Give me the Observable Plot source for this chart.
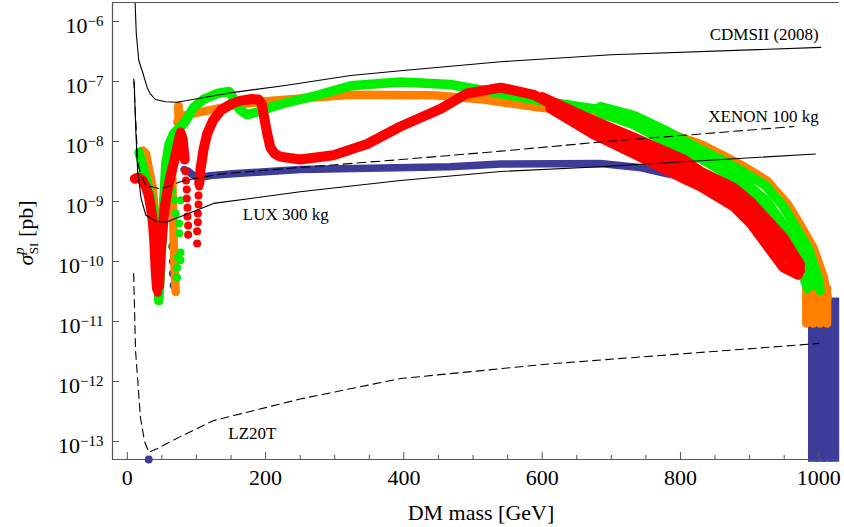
<!DOCTYPE html>
<html><head><meta charset="utf-8">
<script src="https://cdn.jsdelivr.net/npm/d3@7"></script>
<script src="https://cdn.jsdelivr.net/npm/@observablehq/plot@0.6"></script>
<style>
html,body{margin:0;padding:0;background:#fff;}
#chart svg{display:block;}
</style></head><body><div id="chart"></div>
<script>
// ---------------- data (mass in GeV, sigma in pb) ----------------
const xMajor = [0, 200, 400, 600, 800, 1000];
const xMinor = [50, 100, 150, 250, 300, 350, 450, 500, 550, 650, 700, 750, 850, 900, 950];
const yTicks = [1e-13, 1e-12, 1e-11, 1e-10, 1e-9, 1e-8, 1e-7, 1e-6];

const cdms = [[11,2.5e-6],[13,6.3e-7],[16.6,2.24e-7],[21.5,1.51e-7],[28.8,7.9e-8],[33,6.3e-8],[40.8,5.0e-8],[55,4.6e-8],[72,4.5e-8],[154,6.6e-8],[226,8.5e-8],[323,1.26e-7],[395,1.51e-7],[540,2.14e-7],[700,2.8e-7],[1003,3.7e-7]];
const xenon = [[9.4,1.1e-7],[11,4.0e-8],[12.5,2.0e-8],[14.7,5.0e-9],[19,2.8e-9],[27,1.86e-9],[48,1.62e-9],[82,2.24e-9],[135,2.88e-9],[251,3.7e-9],[395,5.0e-9],[540,6.9e-9],[684,9.8e-9],[964,1.78e-8]];
const lux = [[10,1.0e-7],[12.3,1.5e-8],[15,3.2e-9],[20,1.12e-9],[26.8,5.9e-10],[41.2,4.7e-10],[55.7,4.5e-10],[86.6,6.2e-10],[124.7,9.3e-10],[250,1.45e-9],[395,2.24e-9],[540,3.16e-9],[684,3.8e-9],[995,6.2e-9]];
const lz = [[9.2,6.3e-11],[11.9,3.3e-12],[19,2.5e-13],[25,1.0e-13],[31,6.6e-14],[43,7.6e-14],[80,1.26e-13],[125,2.24e-13],[250,5.1e-13],[395,1.12e-12],[612,1.97e-12],[1000,4.3e-12]];

const curveLabels = ["CDMSII (2008)", "XENON 100 kg", "LUX 300 kg", "LZ20T"];
const labelMass = [1000, 1000, 167, 146];
const labelSigma = [5.0e-7, 2.14e-8, 5.0e-10, 1.12e-13];

// scan points: [mass, sigma, strand]
const navyStrands = [
  [82,3.4e-9,"a"],[88,3.2e-9,"a"],[95,2.75e-9,"a"],[104,2.5e-9,"a"],[120,2.7e-9,"a"],[153,2.9e-9,"a"],[250,3.4e-9,"a"],[467,3.8e-9,"a"],[540,4.2e-9,"a"],[684,4.3e-9,"a"],[740,3.7e-9,"a"],[781,2.9e-9,"a"],[829,2.4e-9,"a"],[877,1.78e-9,"a"],[919,6.0e-10,"a"],[965,1.41e-10,"a"],[1007,2.5e-11,"a"],[1015,1.26e-11,"a"]
];
const navyColumn = [
  [992,8.9e-12,"a"],[992,4.6e-14,"a"],
  [1002,8.9e-12,"b"],[1002,4.6e-14,"b"],
  [1012,1.5e-11,"c"],[1012,4.6e-14,"c"],
  [1022,2.5e-11,"d"],[1022,4.6e-14,"d"]
];
const navyDots = [[65,1.78e-10],[66,1.0e-10],[66,6.3e-11],[67,4.0e-11],[31,5.0e-14]];

const orangeStrands = [
  [22,7.1e-9,"a"],[27,6.3e-9,"a"],[32,3.2e-9,"a"],[36.5,1.78e-9,"a"],[41,5.0e-10,"a"],[44,1.26e-10,"a"],[46,5.0e-11,"a"],[48,1.0e-10,"a"],[51,3.2e-10,"a"],[54,1.0e-9,"a"],[57,3.2e-9,"a"],[62,7.1e-9,"a"],
  [64,5.0e-9,"b"],[66,1.0e-9,"b"],[67,2.5e-10,"b"],[68,1.0e-10,"b"],[70,3.1e-11,"b"],
  [74,4.0e-8,"c"],[74,2.24e-8,"c"],
  [74,3.8e-8,"d"],[76,2.5e-8,"d"],[81,2.7e-8,"d"],[100,3.0e-8,"d"],[153,4.0e-8,"d"],[200,4.7e-8,"d"],[251,5.2e-8,"d"],[323,6.0e-8,"d"],[443,5.9e-8,"d"],[515,5.0e-8,"d"],[588,3.8e-8,"d"],[684,2.8e-8,"d"],[733,2.1e-8,"d"],[781,1.41e-8,"d"],[829,9.1e-9,"d"],[858,6.2e-9,"d"],[891,3.9e-9,"d"],[926,2.19e-9,"d"],[955,9.1e-10,"d"],[973,4.17e-10,"d"],[992,1.74e-10,"d"],[1007,5.6e-11,"d"],[1013,2.5e-11,"d"],
  [982,3.55e-11,"e"],[982,9.3e-12,"e"],
  [992,3.55e-11,"f"],[992,9.3e-12,"f"],
  [1002,3.55e-11,"g"],[1002,9.3e-12,"g"],
  [1012,3.55e-11,"h"],[1012,9.3e-12,"h"]
];
const orangeDots = [[72,2.1e-8]];

const greenStrands = [
  [17,6.6e-9,"a"],[24,3.3e-9,"a"],[34,1.17e-9,"a"],[41,3.3e-10,"a"],[43.5,9.3e-11,"a"],[45.5,2.24e-11,"a"],[48.5,9.1e-11,"a"],[51,3.3e-10,"a"],[53,1.17e-9,"a"],[55.7,4.3e-9,"a"],[60.6,9.1e-9,"a"],[67,1.35e-8,"a"],[82,2.0e-8,"a"],[89,2.7e-8,"a"],[96,3.7e-8,"a"],[111,5.1e-8,"a"],[130,6.3e-8,"a"],[147,6.8e-8,"a"],[152,5.6e-8,"a"],[158,4.0e-8,"a"],[164,3.3e-8,"a"],[173,2.8e-8,"a"],[188,3.1e-8,"a"],[207,3.7e-8,"a"],[226,4.3e-8,"a"],[275,5.9e-8,"a"],[323,8.5e-8,"a"],[395,9.8e-8,"a"],[467,8.9e-8,"a"],[540,6.3e-8,"a"],[612,4.5e-8,"a"],[684,3.4e-8,"a"],[733,2.24e-8,"a"],[781,1.17e-8,"a"],[829,6.07e-9,"a"],[872,3.29e-9,"a"],[924,1.04e-9,"a"],[955,3.29e-10,"a"],[979,1.04e-10,"a"],[991,4.0e-11,"a"],
  [684,3.8e-8,"b"],[733,2.7e-8,"b"],[781,1.48e-8,"b"],[826,7.64e-9,"b"],[855,5.2e-9,"b"],[887,3.29e-9,"b"],[923,1.85e-9,"b"],[949,8.26e-10,"b"],[966,3.83e-10,"b"],[985,1.65e-10,"b"],[999,5.2e-11,"b"],[1002,3.29e-11,"b"],
  [684,3.0e-8,"c"],[733,1.9e-8,"c"],[781,9.5e-9,"c"],[832,5.0e-9,"c"],[880,2.33e-9,"c"],[916,7.9e-10,"c"],[940,3.29e-10,"c"],[965,1.26e-10,"c"],[979,5.2e-11,"c"],[984,3.55e-11,"c"]
];
const greenDots = [[65,1.51e-9],[68,1.05e-9],[70,6.3e-10],[75,4.3e-10],[75,2.95e-10],[77,1.05e-9],[77,1.41e-10],[73,1.17e-10],[77,1.05e-10],[72,7.9e-11],[72,5.4e-11],[44,4.0e-11],[46,3.2e-11],[47,6.3e-11],[44,1.26e-10]];

const redStrands = [
  [11,2.4e-9,"a"],[16,2.5e-9,"a"],[22,2.24e-9,"a"],[27,1.74e-9,"a"],[31,1.26e-9,"a"],[34,7.9e-10,"a"],[37,4.5e-10,"a"],[39,2.24e-10,"a"],[41,7.1e-11,"a"],[43,3.5e-11,"a"],[46,4.0e-11,"a"],[48,1.26e-10,"a"],[51,3.3e-10,"a"],[54,7.9e-10,"a"],[58,1.51e-9,"a"],[63,2.8e-9,"a"],[68,4.8e-9,"a"],[73,8.9e-9,"a"],[77,1.41e-8,"a"],[80,1.12e-8,"a"],[83,5.0e-9,"a"],
  [104,2.0e-9,"b"],[106,3.5e-9,"b"],[110,7.1e-9,"b"],[115.5,1.35e-8,"b"],[124,2.24e-8,"b"],[135,3.3e-8,"b"],[150,4.2e-8,"b"],[164,4.8e-8,"b"],[180,5.1e-8,"b"],[190,5.0e-8,"b"],[195,4.0e-8,"b"],[198,2.5e-8,"b"],[202,1.41e-8,"b"],[207,7.9e-9,"b"],[213,6.3e-9,"b"],[221,5.6e-9,"b"],[250,5.0e-9,"b"],[298,5.9e-9,"b"],[347,9.1e-9,"b"],[395,1.78e-8,"b"],[453,3.5e-8,"b"],[491,6.3e-8,"b"],[540,7.9e-8,"b"],[588,6.0e-8,"b"],[612,4.3e-8,"b"],[674,1.78e-8,"b"],[732,8.7e-9,"b"],[805,3.55e-9,"b"],[829,2.4e-9,"b"],[877,1.2e-9,"b"],[901,6.6e-10,"b"],[949,1.41e-10,"b"],[973,7.1e-11,"b"],
  [600,5.5e-8,"u"],[674,2.24e-8,"u"],[732,1.17e-8,"u"],[805,5.0e-9,"u"],[829,3.16e-9,"u"],[877,1.7e-9,"u"],[901,1.0e-9,"u"],[949,2.5e-10,"u"],[973,8.9e-11,"u"],
  [612,3.55e-8,"l"],[674,1.32e-8,"l"],[732,6.3e-9,"l"],[805,2.4e-9,"l"],[829,1.78e-9,"l"],[877,8.3e-10,"l"],[901,4.4e-10,"l"],[949,7.9e-11,"l"],[970,6.0e-11,"l"]
];
const redDots = [[84,3.2e-9],[85,2.24e-9],[86,1.58e-9],[86,1.12e-9],[87,7.9e-10],[87,5.6e-10],[88,4.0e-10],[88,2.8e-10],
  [101,2.0e-10],[101,3.2e-10],[102,4.5e-10],[102,6.3e-10],[103,8.9e-10],[103,1.26e-9],[104,1.78e-9],
  [40,1.0e-10],[45,1.12e-10],[42,5.0e-11],[44,3.0e-11]];

// ---------------- chart ----------------
const C = {navy: "#3d3d99", orange: "#ff8000", green: "#00f000", red: "#ff0000", axis: "#555"};
const band = (data, color, w, cap = "round") => Plot.line(data, {x: d => d[0], y: d => d[1], z: d => d[2], stroke: color, strokeWidth: w, strokeLinecap: cap, strokeLinejoin: "round"});
const dots = (data, color) => Plot.dot(data, {x: d => d[0], y: d => d[1], r: 4, fill: color});
const curve = (data, dash) => Plot.line(data, {x: d => d[0], y: d => d[1], stroke: "#000", strokeWidth: 1.1, strokeDasharray: dash, clip: true});

const plot = Plot.plot({
  width: 844, height: 527,
  marginLeft: 112, marginRight: 5, marginTop: 2, marginBottom: 68,
  style: {fontFamily: "'Liberation Serif', 'Times New Roman', serif", fontSize: "22px", background: "#fff", color: "#000"},
  x: {domain: [-21.4, 1030]},
  y: {type: "log", domain: [5.01e-14, 2.074e-6]},
  marks: [
    band(navyStrands, C.navy, 7.5), band(navyColumn, C.navy, 10.5, "butt"), dots(navyDots, C.navy),
    band(orangeStrands, C.orange, 8.5), dots(orangeDots, C.orange),
    band(greenStrands, C.green, 9.5), dots(greenDots, C.green),
    band(redStrands, C.red, 10), dots(redDots, C.red),
    curve(cdms, null), curve(xenon, "9,5"), curve(lux, null), curve(lz, "8,5"),
    Plot.text(curveLabels, {filter: (d, i) => i < 2, x: (d, i) => labelMass[i], y: (d, i) => labelSigma[i], text: d => d, textAnchor: "end", lineAnchor: "bottom", fontSize: 17}),
    Plot.text(curveLabels, {filter: (d, i) => i >= 2, x: (d, i) => labelMass[i], y: (d, i) => labelSigma[i], text: d => d, textAnchor: "start", lineAnchor: "bottom", fontSize: 17}),
    Plot.ruleX([-21.4], {stroke: C.axis, strokeWidth: 1.2}),
    Plot.ruleY([5.01e-14], {stroke: C.axis, strokeWidth: 1.2}),
    Plot.ruleY([2.074e-6], {stroke: C.axis, strokeWidth: 1.2}),
    Plot.tickY(yTicks, {y: d => d, insetRight: 720, stroke: C.axis}),
    Plot.tickX(xMajor, {x: d => d, insetTop: 450, stroke: C.axis}),
    Plot.tickX(xMinor, {x: d => d, insetTop: 453, stroke: C.axis}),
    Plot.axisX(xMajor, {tickSize: 0, tickPadding: 10, fontSize: 22, tickFormat: d => String(d), label: null}),
    Plot.axisY(yTicks, {tickSize: 0, tickPadding: 9, fontSize: 22, dy: 4, tickFormat: d => String(Math.round(Math.log10(d))), label: null}),
    Plot.text(["DM mass [GeV]"], {frameAnchor: "bottom", dy: 60, dx: 5, lineAnchor: "bottom", fontSize: 22})
  ]
});
document.getElementById("chart").appendChild(plot);

// superscript exponents on y tick labels
d3.select(plot).selectAll('g[aria-label="y-axis tick label"] text').each(function () {
  const el = d3.select(this);
  const exp = el.text();
  el.text("10");
  el.append("tspan").attr("dy", "-7").attr("font-size", 15).text(exp.replace("-", "\u2212"));
});

// y axis title: sigma^p_SI [pb]
const yl = d3.select(plot).append("text")
  .attr("transform", "translate(33,233) rotate(-90)")
  .attr("text-anchor", "middle").attr("font-size", 22).attr("fill", "#000");
yl.append("tspan").attr("font-style", "italic").text("\u03C3");
yl.append("tspan").attr("font-style", "italic").attr("font-size", 15).attr("dy", -9).text("p");
yl.append("tspan").attr("font-size", 13).attr("dx", -7).attr("dy", 14).text("SI");
yl.append("tspan").attr("dy", -5).text(" [pb]");
</script></body></html>
